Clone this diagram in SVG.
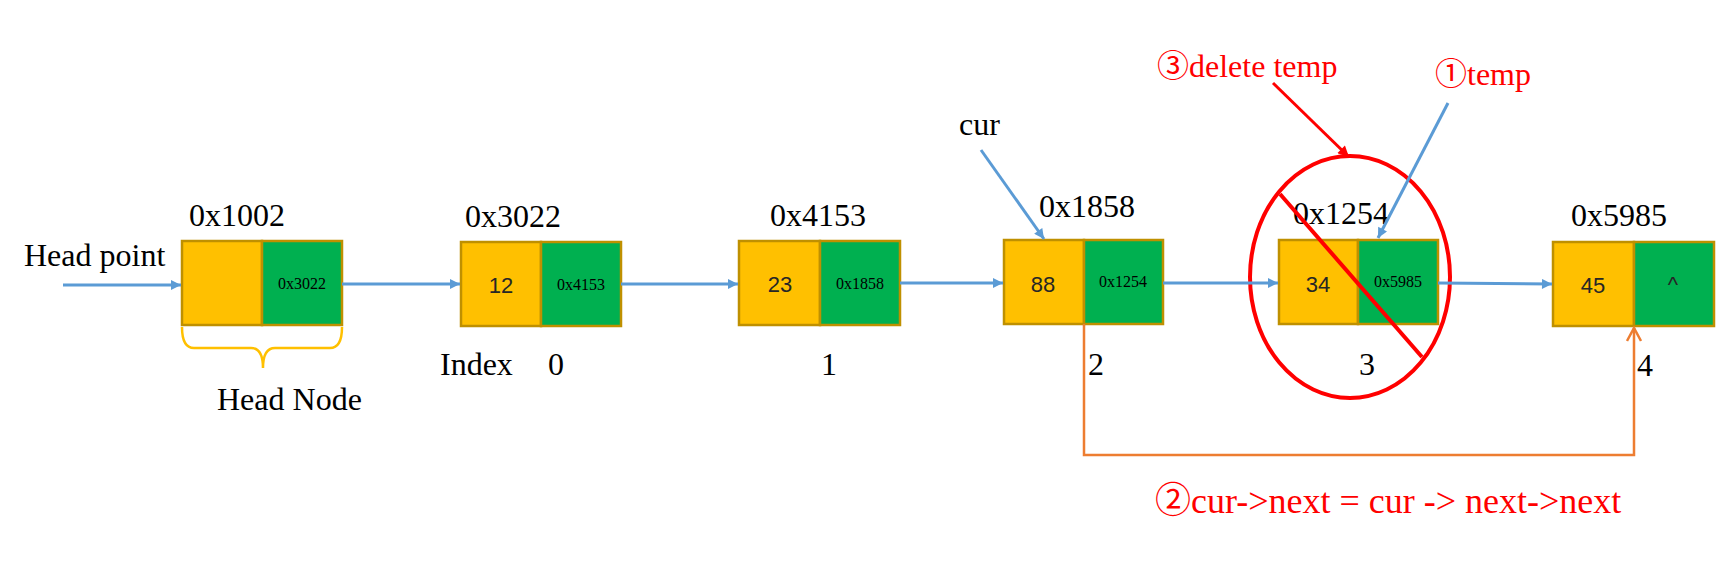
<svg xmlns="http://www.w3.org/2000/svg" width="1735" height="561" viewBox="0 0 1735 561">
<style>
.t{font-family:"Liberation Serif","Noto Sans CJK SC",serif;font-size:32px;fill:#000}
.r{font-family:"Liberation Serif","Noto Sans CJK SC",serif;fill:#ff0000}
.d{font-family:"Liberation Sans","Noto Sans",sans-serif;font-size:22px;fill:#262626;text-anchor:middle}
.p{font-family:"Liberation Serif",serif;font-size:16px;fill:#000;text-anchor:middle}
.y{fill:#FFC000;stroke:#BF9000;stroke-width:2.5}
.g{fill:#00B050;stroke:#BF9000;stroke-width:2.5}
.b{stroke:#5B9BD5;stroke-width:3;fill:none;marker-end:url(#ab)}
</style>
<defs>
<marker id="ab" viewBox="0 0 10 10" refX="10" refY="5" markerWidth="11" markerHeight="10" markerUnits="userSpaceOnUse" orient="auto"><path d="M0,0 L10,5 L0,10 z" fill="#5B9BD5"/></marker>
<marker id="ar" viewBox="0 0 10 10" refX="10" refY="5" markerWidth="12" markerHeight="11" markerUnits="userSpaceOnUse" orient="auto"><path d="M0,0 L10,5 L0,10 z" fill="#ff0000"/></marker>
<marker id="ao" viewBox="0 0 16 16" refX="14" refY="8" markerWidth="16" markerHeight="16" markerUnits="userSpaceOnUse" orient="auto"><path d="M1,1 L14,8 L1,15" fill="none" stroke="#ED7D31" stroke-width="2.5"/></marker>
</defs>
<rect width="1735" height="561" fill="#fff"/>

<text class="t" x="24" y="266">Head point</text>
<text class="t" x="217" y="410">Head Node</text>
<text class="t" x="440" y="375">Index</text>

<g id="node-head">
<rect class="y" x="182" y="241" width="80" height="84"/>
<rect class="g" x="262" y="241" width="80" height="84"/>
<text class="p" x="302" y="289">0x3022</text>
<text class="t" x="189" y="226">0x1002</text>
<path d="M182,327 Q182,348 194,348 L251,348 Q263,348 263,368 Q263,348 275,348 L330,348 Q342,348 342,327" fill="none" stroke="#FFC000" stroke-width="2.5"/>
</g>
<g id="node-0">
<rect class="y" x="461" y="242" width="80" height="84"/>
<rect class="g" x="541" y="242" width="80" height="84"/>
<text class="d" x="501" y="293">12</text>
<text class="p" x="581" y="290">0x4153</text>
<text class="t" x="465" y="227">0x3022</text>
<text class="t" x="548" y="375">0</text>
</g>
<g id="node-1">
<rect class="y" x="739" y="241" width="81" height="84"/>
<rect class="g" x="820" y="241" width="80" height="84"/>
<text class="d" x="780" y="292">23</text>
<text class="p" x="860" y="289">0x1858</text>
<text class="t" x="770" y="226">0x4153</text>
<text class="t" x="821" y="375">1</text>
</g>
<g id="node-2">
<rect class="y" x="1004" y="240" width="80" height="84"/>
<rect class="g" x="1084" y="240" width="79" height="84"/>
<text class="d" x="1043" y="292">88</text>
<text class="p" x="1123" y="287">0x1254</text>
<text class="t" x="1039" y="217">0x1858</text>
<text class="t" x="1088" y="375">2</text>
<text class="t" x="959" y="135">cur</text>
</g>
<g id="node-3">
<rect class="y" x="1279" y="240" width="79" height="84"/>
<rect class="g" x="1358" y="240" width="80" height="84"/>
<text class="d" x="1318" y="292">34</text>
<text class="p" x="1398" y="287">0x5985</text>
<text class="t" x="1293" y="224">0x1254</text>
<text class="t" x="1359" y="375">3</text>
<text class="r" x="1435" y="85" font-size="32">①temp</text>
</g>
<g id="node-4">
<rect class="y" x="1553" y="242" width="81" height="84"/>
<rect class="g" x="1634" y="242" width="80" height="84"/>
<text class="d" x="1593" y="293">45</text>
<text class="d" x="1673" y="292">^</text>
<text class="t" x="1571" y="226">0x5985</text>
<text class="t" x="1637" y="376">4</text>
</g>
<g id="delete-mark">
<ellipse cx="1350" cy="277" rx="100" ry="121" fill="none" stroke="#ff0000" stroke-width="4"/>
<line x1="1280" y1="194" x2="1422" y2="357" stroke="#ff0000" stroke-width="4"/>
<text class="r" x="1157" y="77" font-size="32">③delete temp</text>
</g>
<text class="r" x="1155" y="513" font-size="36">②cur-&gt;next = cur -&gt; next-&gt;next</text>

<g id="connectors">
<path class="b" d="M63,285 L181,285"/>
<path class="b" d="M342,284 L460,284"/>
<path class="b" d="M621,284 L738,284"/>
<path class="b" d="M900,283 L1003,283"/>
<path class="b" d="M1163,283 L1278,283"/>
<path class="b" d="M1438,283 L1552,284"/>
<path class="b" d="M981,150 L1044,239"/>
<path class="b" d="M1448,103 L1378,238"/>
<path d="M1273,83 L1349,157" stroke="#ff0000" stroke-width="3" fill="none" marker-end="url(#ar)"/>
<path d="M1084,324 V455 H1634 V328" stroke="#ED7D31" stroke-width="2.5" fill="none" marker-end="url(#ao)"/>
</g>
</svg>
